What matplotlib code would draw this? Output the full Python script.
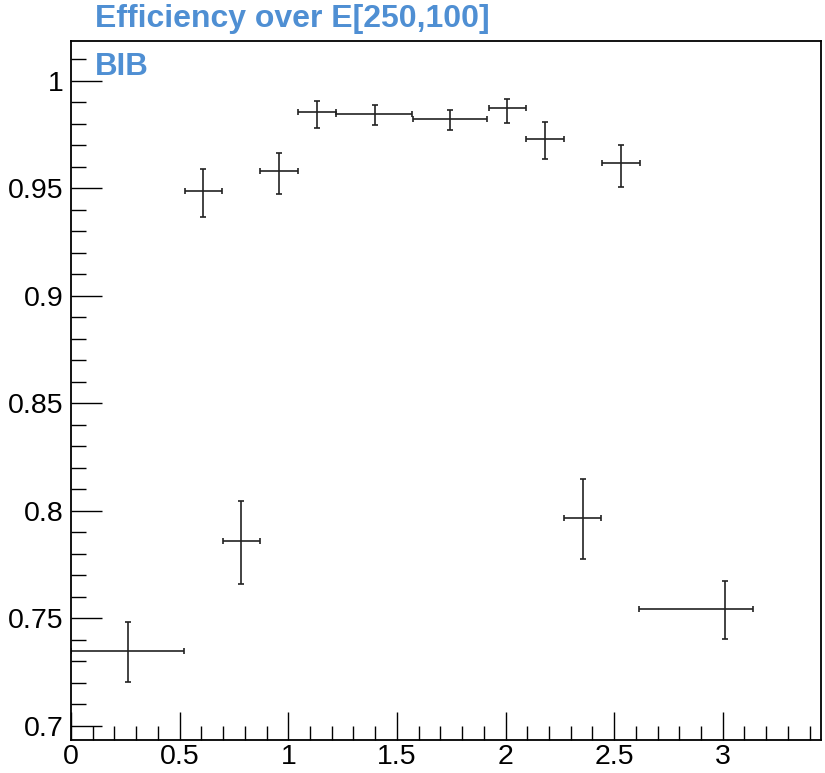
import matplotlib
matplotlib.use("Agg")
import matplotlib.pyplot as plt
import numpy as np
from matplotlib.ticker import MultipleLocator

# data (x centers, bin edges, efficiency, asymmetric errors)
x_center = [0.26, 0.608, 0.783, 0.958, 1.133, 1.397, 1.744, 2.009, 2.182, 2.356, 2.532, 3.009]
x_low    = [0.0, 0.524, 0.699, 0.872, 1.047, 1.222, 1.572, 1.923, 2.096, 2.271, 2.446, 2.615]
x_high   = [0.518, 0.694, 0.868, 1.044, 1.219, 1.569, 1.915, 2.095, 2.268, 2.440, 2.618, 3.141]
eff      = [0.7347, 0.9490, 0.7860, 0.9581, 0.9857, 0.9847, 0.9823, 0.9873, 0.9730, 0.7966, 0.9617, 0.7543]
eff_up   = [0.7482, 0.9591, 0.8048, 0.9666, 0.9908, 0.9886, 0.9864, 0.9915, 0.9808, 0.8150, 0.9701, 0.7674]
eff_down = [0.7205, 0.9369, 0.7660, 0.9473, 0.9783, 0.9794, 0.9772, 0.9803, 0.9636, 0.7777, 0.9508, 0.7406]

title_text = "Efficiency over E[250,100]"
label_text = "BIB"
blue = "#4f8fd3"

plt.rcParams['font.family'] = ['Liberation Sans', 'DejaVu Sans']

fig = plt.figure(figsize=(8.25, 7.73), dpi=100)
ax = fig.add_axes([0.0861, 0.0433, 0.9087, 0.9043])

xc = np.array(x_center)
y = np.array(eff)
xerr = [xc - np.array(x_low), np.array(x_high) - xc]
yerr = [y - np.array(eff_down), np.array(eff_up) - y]
ax.errorbar(xc, y, xerr=xerr, yerr=yerr, fmt='none', ecolor='#222222',
            elinewidth=1.2, capsize=2.5, capthick=1.2)

ax.set_xlim(0, 3.451)
ax.set_ylim(0.6937, 1.0188)
ax.xaxis.set_major_locator(MultipleLocator(0.5))
ax.xaxis.set_minor_locator(MultipleLocator(0.1))
ax.yaxis.set_major_locator(MultipleLocator(0.05))
ax.yaxis.set_minor_locator(MultipleLocator(0.01))
ax.xaxis.set_major_formatter(matplotlib.ticker.FuncFormatter(lambda v, p: f"{v:g}"))
ax.yaxis.set_major_formatter(matplotlib.ticker.FuncFormatter(lambda v, p: f"{v:g}"))

ax.tick_params(which='both', direction='in', top=False, right=False, width=1.0, color='black')
ax.tick_params(axis='x', which='major', length=20, pad=3.5, labelsize=20.5)
ax.tick_params(axis='x', which='minor', length=10)
ax.tick_params(axis='y', which='major', length=22, pad=5.5, labelsize=20.5)
ax.tick_params(axis='y', which='minor', length=11)
for s in ax.spines.values():
    s.set_linewidth(1.3)

fig.text(95/825, 1 - 4/773, title_text, color=blue, fontsize=23, fontweight='bold',
         ha='left', va='top')
fig.text(95/825, 1 - 52/773, label_text, color=blue, fontsize=22.5, fontweight='bold',
         ha='left', va='top')

fig.savefig("out.png", dpi=100)
